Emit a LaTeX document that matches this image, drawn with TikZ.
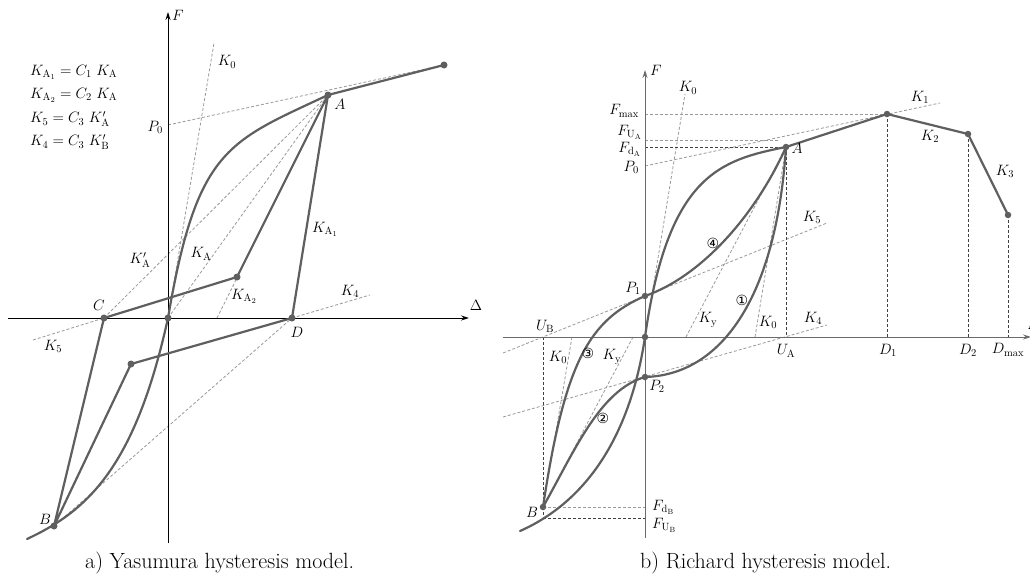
\RequirePackage{fix-cm}
\documentclass[tikz,border=0pt]{standalone}
\usepackage{fontspec}
\newfontfamily\dejavu{DejaVu Sans}
\usetikzlibrary{arrows.meta}
\definecolor{curvec}{HTML}{5F5F5F}
\definecolor{guidec}{HTML}{9A9A9A}
\definecolor{darkc}{HTML}{404040}
\definecolor{axisrc}{HTML}{6A6A6A}
\begin{document}
\begin{tikzpicture}[x=1pt,y=-1pt,
  curveline/.style={draw=curvec, line width=2.2pt, line join=round, line cap=round},
  guideline/.style={draw=guidec, line width=0.8pt, dash pattern=on 3pt off 2pt},
  darkdash/.style={draw=darkc, line width=0.8pt, dash pattern=on 3pt off 2pt},
  axisleft/.style={draw=black, line width=1pt, -{Stealth[length=8pt,width=5pt]}},
  axisright/.style={draw=axisrc, line width=1pt, -{Stealth[length=8pt,width=5pt]}},
  dot/.style={circle, fill=curvec, inner sep=0pt, minimum size=7pt},
  lbl/.style={inner sep=0pt, font=\fontsize{15}{18}\selectfont},
  circnum/.style={inner sep=0pt, font=\dejavu\fontsize{14}{16}\selectfont},
  captext/.style={inner sep=0pt, anchor=base west, font=\fontsize{22}{26}\selectfont}
]
\path[use as bounding box, fill=white] (0,0) rectangle (1030,578);

%%%%%%%%%%%%%%%% LEFT PANEL %%%%%%%%%%%%%%%%
\coordinate (LO) at (168,318);
\coordinate (LFtop) at (168,12);
\coordinate (LFbot) at (168,543);
\coordinate (LXl) at (8,318);
\coordinate (LXr) at (469,318);
\coordinate (LA) at (328,95);
\coordinate (LE) at (444,65);
\coordinate (LC) at (104,318);
\coordinate (LD) at (292,318);
\coordinate (LB) at (54,526);
\coordinate (LQ) at (237,277);
\coordinate (LR) at (131,364);
\coordinate (LP0) at (168,125);
\coordinate (LK0) at (214,43);
\coordinate (LK5) at (33,340);
\coordinate (LK4) at (370,295);
\coordinate (LKa2) at (217,318);
\coordinate (LEnd) at (27,539);

% guides
\draw[guideline] (LO) -- (LK0);
\draw[guideline] (LP0) -- (LE);
\draw[guideline] (LC) -- (LA);
\draw[guideline] (LO) -- (LA);
\draw[guideline] (LKa2) -- (LA);
\draw[guideline] (LK5) -- (LC);
\draw[guideline] (LD) -- (LK4);
\draw[guideline] (LB) -- (LD);

% axes
\draw[axisleft] (LFbot) -- (LFtop);
\draw[axisleft] (LXl) -- (LXr);

% curves
\draw[curveline] (LB) -- (LC) -- (LQ) -- (LA) -- (LD) -- (LR) -- cycle;
\draw[curveline] (LEnd) .. controls (87,511) and (135,468) .. (LO)
  .. controls (197,148) and (228,142) .. (LA) -- (LE);

% dots
\foreach \p in {LA,LE,LC,LD,LB,LQ,LR,LO} \node[dot] at (\p) {};

% labels
\node[lbl] (lF) at (178,15) {$F$};
\node[lbl] (lDelta) at (476,305) {$\Delta$};
\node[lbl, anchor=east] (lP0) at (163,127) {$P_0$};
\node[lbl] (lK0) at (227,62) {$K_0$};
\node[lbl] (lAl) at (340,104) {$A$};
\node[lbl] (lCl) at (99,305) {$C$};
\node[lbl] (lDl) at (297,332) {$D$};
\node[lbl] (lBl) at (45,519) {$B$};
\node[lbl] (lKpA) at (140,260) {$K'_{\mathrm{A}}$};
\node[lbl] (lKA) at (201,254) {$K_{\mathrm{A}}$};
\node[lbl] (lKA1) at (325,229) {$K_{\mathrm{A}_1}$};
\node[lbl] (lKA2) at (244,296) {$K_{\mathrm{A}_2}$};
\node[lbl] (lK4) at (350,291) {$K_4$};
\node[lbl] (lK5) at (53,346) {$K_5$};
\node[lbl, anchor=west] (eq1) at (30,72) {$K_{\mathrm{A}_1}=C_1\ K_{\mathrm{A}}$};
\node[lbl, anchor=west] (eq2) at (30,95) {$K_{\mathrm{A}_2}=C_2\ K_{\mathrm{A}}$};
\node[lbl, anchor=west] (eq3) at (30,119) {$K_5=C_3\ K'_{\mathrm{A}}$};
\node[lbl, anchor=west] (eq4) at (30,142) {$K_4=C_3\ K'_{\mathrm{B}}$};
\node[captext] (capa) at (85,568) {a) Yasumura hysteresis model.};

%%%%%%%%%%%%%%%% RIGHT PANEL %%%%%%%%%%%%%%%%
\coordinate (RO) at (645,337);
\coordinate (RFtop) at (645,70);
\coordinate (RFbot) at (645,538);
\coordinate (RXl) at (503,337);
\coordinate (RXr) at (1031,337);
\coordinate (RA) at (786,147);
\coordinate (RPk) at (887,114);
\coordinate (RP2) at (968,134);
\coordinate (RP3) at (1008,215);
\coordinate (RB) at (543,507);
\coordinate (RP1) at (645,296);
\coordinate (RQ2) at (645,377);
\coordinate (RUB) at (543,337);
\coordinate (RUA) at (786,337);
\coordinate (RD1) at (887,337);
\coordinate (RD2) at (968,337);
\coordinate (RDm) at (1008,337);
\coordinate (RFmax) at (645,114);
\coordinate (RFUA) at (645,140);
\coordinate (RFUAe) at (778,140);
\coordinate (RFdA) at (645,147);
\coordinate (RFdB) at (645,507);
\coordinate (RFUB) at (645,518);
\coordinate (RFUBl) at (543,518);
\coordinate (RP0) at (645,166);
\coordinate (RK1) at (940,103);
\coordinate (RK0top) at (685,94);
\coordinate (RK0a) at (755,337);
\coordinate (RKya) at (686,337);
\coordinate (RK0b) at (572,337);
\coordinate (RKyb) at (633,337);
\coordinate (RK5l) at (503,353);
\coordinate (RK5r) at (827,223);
\coordinate (RK4l) at (503,417);
\coordinate (RK4r) at (827,325);
\coordinate (REnd) at (520,531);

% guides
\draw[guideline] (RO) -- (RK0top);
\draw[guideline] (RP0) -- (RK1);
\draw[guideline] (RFmax) -- (RPk);
\draw[guideline] (RFUA) -- (RFUAe);
\draw[darkdash] (RFdA) -- (RA);
\draw[guideline] (RK0a) -- (RA);
\draw[guideline] (RKya) -- (RA);
\draw[guideline] (RK0b) -- (RB);
\draw[guideline] (RKyb) -- (RB);
\draw[guideline] (RK5l) -- (RK5r);
\draw[guideline] (RK4l) -- (RK4r);
\draw[guideline] (RB) -- (RFdB);
\draw[darkdash] (RFUBl) -- (RFUB);
\draw[darkdash] (RUB) -- (RFUBl);
\draw[darkdash] (RA) -- (RUA);
\draw[darkdash] (RPk) -- (RD1);
\draw[darkdash] (RP2) -- (RD2);
\draw[darkdash] (RP3) -- (RDm);

% axes
\draw[axisright] (RFbot) -- (RFtop);
\draw[axisright] (RXl) -- (RXr);

% curves
\draw[curveline] (REnd) .. controls (570,509) and (627,457) .. (RO)
  .. controls (668,175) and (720,160) .. (RA) -- (RPk) -- (RP2) -- (RP3);
\draw[curveline] (RB) .. controls (565,360) and (590,320) .. (RP1)
  .. controls (705,275) and (758,210) .. (RA);
\draw[curveline] (RA) .. controls (776,300) and (720,375) .. (RQ2)
  .. controls (600,390) and (575,450) .. (RB);

% dots
\foreach \p in {RA,RPk,RP2,RP3,RB,RP1,RQ2,RO} \node[dot, minimum size=6.5pt] at (\p) {};

% labels
\node[lbl] (rF) at (656,70) {$F$};
\node[lbl] (rDelta) at (1034,324) {$\Delta$};
\node[lbl] (rK0top) at (688,88) {$K_0$};
\node[lbl, anchor=east] (rFmax) at (639,111) {$F_{\max}$};
\node[lbl, anchor=east] (rFUA) at (642,132) {$F_{\mathrm{U}_\mathrm{A}}$};
\node[lbl, anchor=east] (rFdA) at (641,149) {$F_{\mathrm{d}_\mathrm{A}}$};
\node[lbl, anchor=east] (rP0) at (639,167) {$P_0$};
\node[lbl] (rAl) at (797,148) {$A$};
\node[lbl] (rK1) at (920,97) {$K_1$};
\node[lbl] (rK2) at (930,136) {$K_2$};
\node[lbl] (rK3) at (1005,171) {$K_3$};
\node[lbl] (rK5) at (812,217) {$K_5$};
\node[circnum] (c4) at (713,243) {④};
\node[lbl] (rP1) at (633,288) {$P_1$};
\node[circnum] (c1) at (742,300) {①};
\node[lbl] (rKya) at (708,320) {$K_{\mathrm{y}}$};
\node[lbl] (rK0a) at (768,322) {$K_0$};
\node[lbl] (rK4) at (813,318) {$K_4$};
\node[lbl] (rUB) at (545,326) {$U_{\mathrm{B}}$};
\node[circnum] (c3) at (588,353) {③};
\node[lbl] (rK0b) at (558,357) {$K_0$};
\node[lbl] (rKyb) at (612,357) {$K_{\mathrm{y}}$};
\node[lbl] (rP2) at (657,386) {$P_2$};
\node[lbl] (rUA) at (786,351) {$U_{\mathrm{A}}$};
\node[lbl] (rD1) at (888,350) {$D_1$};
\node[lbl] (rD2) at (968,350) {$D_2$};
\node[lbl] (rDm) at (1008,350) {$D_{\max}$};
\node[circnum] (c2) at (603,418) {②};
\node[lbl] (rBl) at (532,512) {$B$};
\node[lbl, anchor=west] (rFdB) at (652,507) {$F_{\mathrm{d}_\mathrm{B}}$};
\node[lbl, anchor=west] (rFUB) at (652,525) {$F_{\mathrm{U}_\mathrm{B}}$};
\node[captext] (capb) at (640,568) {b) Richard hysteresis model.};
\end{tikzpicture}
\end{document}
